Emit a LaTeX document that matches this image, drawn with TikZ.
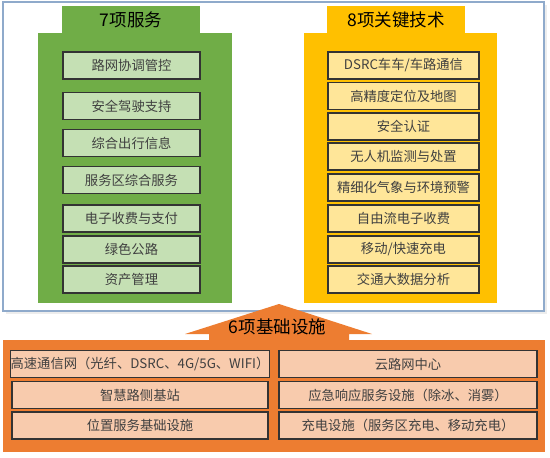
\documentclass[tikz,border=0pt]{standalone}
\usepackage{fontspec}
\setmainfont{Noto Sans CJK SC}
\usepackage{tikz}
\usepackage{xcolor}
\usetikzlibrary{positioning}

\definecolor{framecol}{HTML}{8FAACB}
\definecolor{svcgreen}{HTML}{70AD47}
\definecolor{svclight}{HTML}{C5E0B4}
\definecolor{techgold}{HTML}{FFC000}
\definecolor{techlight}{HTML}{FFE699}
\definecolor{infraorange}{HTML}{ED7D31}
\definecolor{infralight}{HTML}{F8CBAD}
\definecolor{itemtext}{HTML}{404040}

\tikzset{
    itembox/.style={draw=black!80, line width=1.3pt, minimum height=27pt,
        inner sep=0pt, text=itemtext, font=\fontsize{13.3}{15}\selectfont},
    svcitem/.style={itembox, fill=svclight, minimum width=137pt},
    techitem/.style={itembox, fill=techlight, minimum width=151pt},
    infraitem/.style={itembox, fill=infralight},
    headtxt/.style={font=\fontsize{17.5}{19}\selectfont, text=black}
}

\begin{document}
\begin{tikzpicture}[x=1pt, y=-1pt]
    \useasboundingbox (0,0) rectangle (550,458);
    % outer frame
    \fill[black!7] (6,5) rectangle (547,314);
    \draw[framecol, line width=1.4pt, fill=white] (3,2) rectangle (544,311);

    % 7 services
    \fill[svcgreen] (62,6) rectangle (200,34);
    \fill[svcgreen] (38,33) rectangle (232,303);
    \node[headtxt] (svchead) at (131,20) {7项服务};
    \node[svcitem] (s1) at (131.5,65.5) {路网协调管控};
    \node[svcitem] (s2) at (131.5,106) {安全驾驶支持};
    \node[svcitem] (s3) at (131.5,143) {综合出行信息};
    \node[svcitem] (s4) at (131.5,180) {服务区综合服务};
    \node[svcitem] (s5) at (131.5,218.5) {电子收费与支付};
    \node[svcitem] (s6) at (131.5,249.5) {绿色公路};
    \node[svcitem] (s7) at (131.5,279.5) {资产管理};

    % 8 key technologies
    \fill[techgold] (327,6) rectangle (465,34);
    \fill[techgold] (304,33) rectangle (497,303);
    \node[headtxt] (techhead) at (396,20) {8项关键技术};
    \node[techitem] (t1) at (403.5,65.5) {DSRC车车/车路通信};
    \node[techitem] (t2) at (403.5,96) {高精度定位及地图};
    \node[techitem] (t3) at (403.5,126.5) {安全认证};
    \node[techitem] (t4) at (403.5,156.5) {无人机监测与处置};
    \node[techitem] (t5) at (403.5,187.5) {精细化气象与环境预警};
    \node[techitem] (t6) at (403.5,218.5) {自由流电子收费};
    \node[techitem] (t7) at (403.5,249.5) {移动/快速充电};
    \node[techitem] (t8) at (403.5,279.5) {交通大数据分析};

    % 6 infrastructure items
    \fill[infraorange] (3,340) rectangle (545,452);
    \fill[infraorange] (209,341) -- (209,334) -- (185,334) -- (279,304)
        -- (372,334) -- (349,334) -- (349,341) -- cycle;
    \node[headtxt] (infrahead) at (277.5,327) {6项基础设施};
    \node[infraitem, minimum width=256pt] (i1) at (140,364) {高速通信网（光纤、DSRC、4G/5G、WIFI）};
    \node[infraitem, minimum width=256pt] (i2) at (140,395) {智慧路侧基站};
    \node[infraitem, minimum width=256pt] (i3) at (140,425.5) {位置服务基础设施};
    \node[infraitem, minimum width=258pt] (i4) at (408,364) {云路网中心};
    \node[infraitem, minimum width=258pt] (i5) at (408,395) {应急响应服务设施（除冰、消雾）};
    \node[infraitem, minimum width=258pt] (i6) at (408,425.5) {充电设施（服务区充电、移动充电）};
\end{tikzpicture}
\end{document}
